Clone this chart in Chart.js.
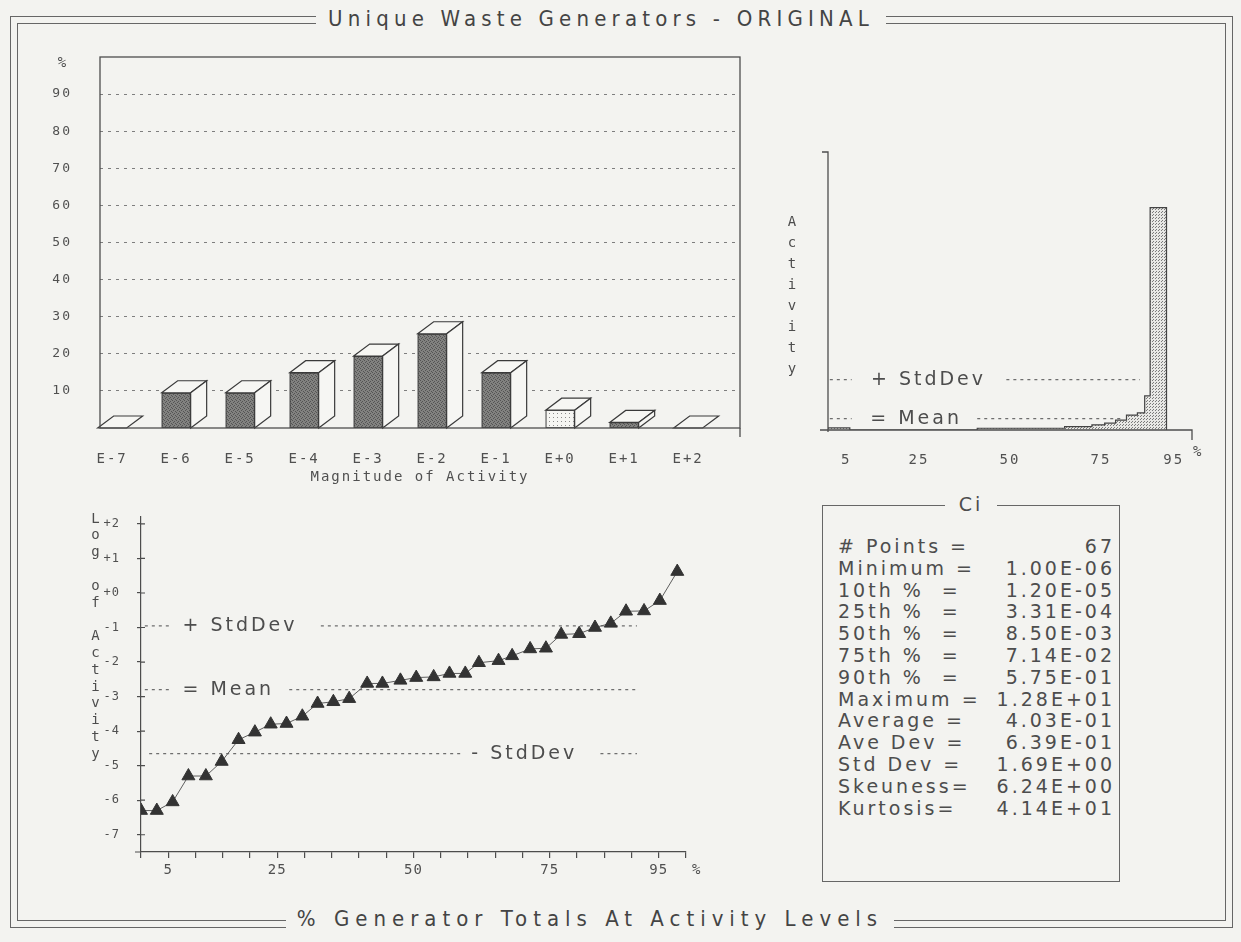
<!DOCTYPE html>
<html>
<head>
<meta charset="utf-8">
<title>Unique Waste Generators - ORIGINAL</title>
<script src="https://cdn.jsdelivr.net/npm/chart.js@4.4.1/dist/chart.umd.min.js"></script>
<style>
  html, body { margin: 0; padding: 0; background: #f3f3f0; }
  body { width: 1241px; height: 942px; position: relative; overflow: hidden;
         font-family: "DejaVu Sans", sans-serif; color: #4d4d4d; }
  .frame { position: absolute; border: 1.5px solid #666; box-sizing: border-box; }
  #outer { left: 10px; top: 16px; width: 1223px; height: 912px; }
  #inner { left: 17px; top: 23px; width: 1209px; height: 898px; }
  .cap { position: absolute; background: #f3f3f0; text-align: center; white-space: pre;
         font: 22px "DejaVu Sans Condensed", "DejaVu Sans", sans-serif;
         color: #444; line-height: 26px; }
  #title { left: 316px; top: 6px; width: 570px; letter-spacing: 5.2px; }
  #footer { left: 286px; top: 906px; width: 608px; letter-spacing: 6px; }
  canvas { position: absolute; }
  #chartA { left: 40px; top: 40px; }
  #chartB { left: 780px; top: 140px; }
  #chartC { left: 90px; top: 505px; }
  #stats { position: absolute; left: 822px; top: 505px; width: 298px; height: 377px;
           border: 1.5px solid #666; box-sizing: border-box;
           font: 19px "DejaVu Sans", sans-serif; letter-spacing: 3px; color: #4d4d4d; }
  #stats .ci { position: absolute; top: -13px; left: 0; width: 100%; text-align: center; }
  #stats .ci span { background: #f3f3f0; padding: 0 14px; }
  #stats .row { position: absolute; left: 15px; right: 4px; height: 22px; line-height: 22px; white-space: pre; }
  #stats .row .v { position: absolute; right: 0; top: 0; }
</style>
</head>
<body>
<div class="frame" id="outer"></div>
<div class="frame" id="inner"></div>
<div class="cap" id="title">Unique Waste Generators - ORIGINAL</div>
<div class="cap" id="footer">% Generator Totals At Activity Levels</div>

<canvas id="chartA" width="710" height="450"></canvas>
<canvas id="chartB" width="425" height="330"></canvas>
<canvas id="chartC" width="615" height="385"></canvas>

<div id="stats"><div class="ci"><span>Ci</span></div></div>

<script>
// magnitude histogram (% of generators per decade of activity)
const magLabels = ["E-7", "E-6", "E-5", "E-4", "E-3", "E-2", "E-1", "E+0", "E+1", "E+2"];
const magPct = [0, 9.5, 9.5, 14.9, 19.4, 25.4, 14.9, 4.8, 1.5, 0];
const pctTicks = [10, 20, 30, 40, 50, 60, 70, 80, 90];

// activity (Ci) against cumulative % of generators, drawn as steps
const histEdges = [0, 6, 41, 65, 72.5, 76, 79, 82, 85, 87, 88.5, 93];
const histActivity = [0.12, 0, 0.1, 0.2, 0.3, 0.4, 0.57, 0.86, 0.98, 1.96, 12.8, 0];
const histMean = 0.65;
const histPlusSD = 2.9;

// log activity against cumulative %
const logPct = [0, 2.9, 5.8, 8.7, 11.9, 14.8, 17.9, 20.9, 23.8, 26.7, 29.6, 32.4, 35.3, 38.2,
  41.5, 44.3, 47.6, 50.5, 53.7, 56.6, 59.5, 62.0, 65.6, 68.1, 71.4, 74.3, 77.1, 80.4, 83.3,
  86.2, 89.0, 92.3, 95.2, 98.4];
const logAct = [-6.3, -6.3, -6.05, -5.3, -5.3, -4.88, -4.25, -4.03, -3.8, -3.78, -3.57, -3.2,
  -3.15, -3.06, -2.62, -2.62, -2.53, -2.45, -2.43, -2.33, -2.33, -2.02, -1.96, -1.82, -1.62,
  -1.6, -1.2, -1.18, -1.0, -0.88, -0.53, -0.52, -0.22, 0.62];
const logMean = -2.8;
const logPlusSD = -0.95;
const logMinusSD = -4.65;
const logTicks = [-7, -6, -5, -4, -3, -2, -1, 0, 1, 2];
const pctLabels = [5, 25, 50, 75, 95];

// summary box
const statNames = ["# Points =", "Minimum =", "10th %  =", "25th %  =", "50th %  =", "75th %  =",
  "90th %  =", "Maximum =", "Average =", "Ave Dev =", "Std Dev =", "Skeuness=", "Kurtosis="];
const statValues = ["67", "1.00E-06", "1.20E-05", "3.31E-04", "8.50E-03", "7.14E-02",
  "5.75E-01", "1.28E+01", "4.03E-01", "6.39E-01", "1.69E+00", "6.24E+00", "4.14E+01"];

const INK = "#4d4d4d";
const MONO = '"DejaVu Sans Mono", monospace';
const SANS = '"DejaVu Sans", sans-serif';

Chart.defaults.font.family = MONO;
Chart.defaults.font.size = 14;
Chart.defaults.color = "#505050";
Chart.defaults.animation = false;
Chart.defaults.plugins.legend.display = false;
Chart.defaults.plugins.tooltip.enabled = false;

// --- fill patterns ---
function pattern(bg, dot, size, cells) {
  const c = document.createElement("canvas");
  c.width = c.height = size;
  const g = c.getContext("2d");
  g.fillStyle = bg;
  g.fillRect(0, 0, size, size);
  g.fillStyle = dot;
  cells.forEach(([x, y]) => g.fillRect(x, y, 1, 1));
  return g.createPattern(c, "repeat");
}
const darkFill = pattern("#828280", "#545454", 4, [[0, 0], [2, 1], [1, 2], [3, 3]]);
const dotFill = pattern("#f5f5f2", "#8a8a8a", 4, [[1, 1]]);
const histFill = pattern("#e8e8e5", "#7a7a7a", 3, [[0, 0], [1, 2]]);

// wide letter spacing like the old plotter font
function spacing(px) {
  return {
    id: "spacing",
    beforeLayout(chart) { chart.ctx.letterSpacing = px; },
    beforeDraw(chart) { chart.ctx.letterSpacing = px; }
  };
}

// drop the label overhang Chart.js reserves, so the plot box sits where asked
function noOverhang(s) {
  s.paddingTop = 0; s.paddingBottom = 0; s.paddingLeft = 0; s.paddingRight = 0;
}

function stackText(ctx, text, x, y0, step) {
  ctx.save();
  ctx.font = "14px " + MONO;
  ctx.fillStyle = INK;
  ctx.textAlign = "center";
  ctx.textBaseline = "middle";
  [...text].forEach((ch, i) => ctx.fillText(ch, x, y0 + i * step));
  ctx.restore();
}

function refLabel(chart, text, pct, value) {
  const {ctx, scales: {x, y}} = chart;
  ctx.save();
  ctx.font = "19px " + SANS;
  ctx.letterSpacing = "3px";
  ctx.fillStyle = INK;
  ctx.textAlign = "left";
  ctx.textBaseline = "middle";
  ctx.fillText(text, x.getPixelForValue(pct), y.getPixelForValue(value));
  ctx.restore();
}

// horizontal reference line broken where its label sits
function refLine(value, segA, segB) {
  return [
    {x: segA[0], y: value}, {x: segA[1], y: value},
    {x: (segA[1] + segB[0]) / 2, y: null},
    {x: segB[0], y: value}, {x: segB[1], y: value}
  ];
}
const refStyle = {borderColor: "#6e6e6e", borderWidth: 1.2, borderDash: [3, 4], pointRadius: 0, spanGaps: false, fill: false};

/* ---------------- 3D BAR CHART ---------------- */
const bars3d = {
  id: "bars3d",
  afterDatasetsDraw(chart) {
    const {ctx} = chart;
    const dx = 16, dy = 12;
    ctx.save();
    ctx.strokeStyle = "#3a3a3a";
    ctx.lineWidth = 1.2;
    ctx.fillStyle = "#f6f6f3";
    chart.getDatasetMeta(0).data.forEach(bar => {
      const {x, y, base, width} = bar.getProps(["x", "y", "base", "width"], true);
      const l = x - width / 2, r = x + width / 2;
      ctx.beginPath();
      ctx.moveTo(l, y); ctx.lineTo(l + dx, y - dy); ctx.lineTo(r + dx, y - dy); ctx.lineTo(r, y);
      ctx.closePath(); ctx.fill(); ctx.stroke();
      if (base - y > 0.5) {
        ctx.beginPath();
        ctx.moveTo(r, y); ctx.lineTo(r + dx, y - dy); ctx.lineTo(r + dx, base - dy); ctx.lineTo(r, base);
        ctx.closePath(); ctx.fill(); ctx.stroke();
      }
    });
    ctx.restore();
  },
  afterDraw(chart) {
    const {ctx, chartArea: a} = chart;
    ctx.save();
    ctx.strokeStyle = INK;
    ctx.lineWidth = 1.3;
    ctx.strokeRect(a.left, a.top, a.right - a.left, a.bottom - a.top);
    ctx.beginPath();
    ctx.moveTo(a.right, a.bottom); ctx.lineTo(a.right, a.bottom + 9);
    ctx.stroke();
    ctx.fillStyle = INK;
    ctx.font = "14px " + MONO;
    ctx.textAlign = "center";
    ctx.textBaseline = "middle";
    ctx.fillText("%", a.left - 37, a.top + 6);
    ctx.restore();
  }
};

new Chart(document.getElementById("chartA"), {
  type: "bar",
  data: {
    datasets: [{
      data: magPct.map((v, i) => ({x: i, y: v})),
      backgroundColor: c => (magLabels[c.dataIndex] === "E+0" ? dotFill : darkFill),
      borderColor: "#3a3a3a",
      borderWidth: 1.2,
      borderSkipped: false,
      barThickness: 29
    }]
  },
  options: {
    responsive: false,
    layout: {padding: {top: 17, right: 10, left: 0, bottom: 0}},
    scales: {
      x: {
        type: "linear", min: -0.19, max: 9.81, offset: false,
        afterBuildTicks: s => { s.ticks = magLabels.map((_, i) => ({value: i})); },
        ticks: {callback: v => magLabels[v], autoSkip: false, maxRotation: 0, padding: 15},
        grid: {display: false, offset: false},
        border: {display: false},
        title: {display: true, text: "Magnitude of Activity", color: "#505050",
                font: {size: 14}, padding: {top: 0, bottom: 4}},
        afterFit: s => { s.height = 62; noOverhang(s); }
      },
      y: {
        min: 0, max: 100,
        afterBuildTicks: s => { s.ticks = pctTicks.map(v => ({value: v})); },
        ticks: {padding: 28, font: {size: 13}},
        grid: {color: "#7e7e7e", lineWidth: 1, drawTicks: false},
        border: {display: false, dash: [3, 5]},
        afterFit: s => { s.width = 60; noOverhang(s); }
      }
    }
  },
  plugins: [spacing("2px"), bars3d]
});

/* ---------------- ACTIVITY STEP CHART ---------------- */
const frameB = {
  id: "frameB",
  afterDraw(chart) {
    const {ctx, chartArea: a} = chart;
    ctx.save();
    ctx.strokeStyle = INK;
    ctx.lineWidth = 1.3;
    ctx.beginPath();
    ctx.moveTo(a.left - 6, a.top); ctx.lineTo(a.left, a.top); ctx.lineTo(a.left, a.bottom + 2);
    ctx.moveTo(a.left - 8, a.bottom); ctx.lineTo(a.right, a.bottom); ctx.lineTo(a.right, a.bottom + 10);
    ctx.stroke();
    ctx.fillStyle = INK;
    ctx.font = "14px " + MONO;
    ctx.textAlign = "left";
    ctx.textBaseline = "middle";
    ctx.fillText("%", a.right + 1, a.bottom + 22);
    ctx.restore();
    stackText(ctx, "Activity", a.left - 35, a.top + 70, 21);
    refLabel(chart, "+ StdDev", 11.8, histPlusSD);
    refLabel(chart, "= Mean", 11.6, histMean);
  }
};

new Chart(document.getElementById("chartB"), {
  type: "line",
  data: {
    datasets: [
      {
        data: histEdges.map((x, i) => ({x, y: histActivity[i]})),
        stepped: "before", fill: "origin",
        backgroundColor: histFill, borderColor: "#444", borderWidth: 1.2, pointRadius: 0
      },
      {data: refLine(histPlusSD, [0.5, 6.5], [49, 85.7]), ...refStyle},
      {data: refLine(histMean, [0.5, 6.5], [41, 81]), ...refStyle}
    ]
  },
  options: {
    responsive: false,
    layout: {padding: {top: 12, right: 13, left: 0, bottom: 0}},
    scales: {
      x: {
        type: "linear", min: 0, max: 100,
        afterBuildTicks: s => { s.ticks = pctLabels.map(v => ({value: v})); },
        ticks: {autoSkip: false, maxRotation: 0, padding: 14},
        grid: {display: false},
        border: {display: false},
        afterFit: s => { s.height = 40; noOverhang(s); }
      },
      y: {
        min: 0, max: 16,
        ticks: {display: false},
        grid: {display: false},
        border: {display: false},
        afterFit: s => { s.width = 48; noOverhang(s); }
      }
    }
  },
  plugins: [spacing("2px"), frameB]
});

/* ---------------- LOG ACTIVITY CHART ---------------- */
const frameC = {
  id: "frameC",
  afterDraw(chart) {
    const {ctx, chartArea: a, scales: {y}} = chart;
    ctx.save();
    ctx.strokeStyle = INK;
    ctx.lineWidth = 1.2;
    ctx.beginPath();
    ctx.moveTo(a.left - 6, a.bottom); ctx.lineTo(a.left, a.bottom);
    logTicks.forEach(v => {
      const p = y.getPixelForValue(v);
      ctx.moveTo(a.left, p); ctx.lineTo(a.left + 4, p);
    });
    ctx.stroke();
    ctx.fillStyle = INK;
    ctx.font = "14px " + MONO;
    ctx.textAlign = "left";
    ctx.textBaseline = "middle";
    ctx.fillText("%", a.right + 6, a.bottom + 18);
    ctx.restore();
    stackText(ctx, "Log of Activity", a.left - 45, a.top + 2, 16.8);
    refLabel(chart, "+ StdDev", 7.6, logPlusSD);
    refLabel(chart, "= Mean", 7.6, logMean);
    refLabel(chart, "- StdDev", 60.6, logMinusSD);
  }
};

new Chart(document.getElementById("chartC"), {
  type: "line",
  data: {
    datasets: [
      {
        data: logPct.map((x, i) => ({x, y: logAct[i]})),
        borderColor: "#5e5e5e", borderWidth: 1,
        pointStyle: "triangle", pointRadius: 7.5,
        pointBackgroundColor: "#333", pointBorderColor: "#333",
        fill: false, order: 0
      },
      {data: refLine(logPlusSD, [0.7, 5.3], [33, 91]), ...refStyle, order: 1},
      {data: refLine(logMean, [0.7, 5.3], [27.2, 91.4]), ...refStyle, order: 1},
      {data: refLine(logMinusSD, [1.5, 58.6], [84.3, 91]), ...refStyle, order: 1}
    ]
  },
  options: {
    responsive: false,
    layout: {padding: {top: 12, right: 19, left: 0, bottom: 0}},
    scales: {
      x: {
        type: "linear", min: 0, max: 100,
        ticks: {stepSize: 5, autoSkip: false, maxRotation: 0, padding: 4,
                callback: v => (pctLabels.includes(v) ? String(v) : "")},
        grid: {drawOnChartArea: false, drawTicks: true, tickLength: 6, color: INK, lineWidth: 1.2},
        border: {display: true, color: INK, width: 1.2},
        afterFit: s => { s.height = 38; noOverhang(s); }
      },
      y: {
        min: -7.5, max: 2.2,
        afterBuildTicks: s => { s.ticks = logTicks.map(v => ({value: v})); },
        ticks: {padding: 17, font: {size: 12}, callback: v => (v >= 0 ? "+" : "") + v},
        grid: {drawOnChartArea: false, drawTicks: true, tickLength: 4, color: INK, lineWidth: 1.2},
        border: {display: true, color: INK, width: 1.2},
        afterFit: s => { s.width = 51; noOverhang(s); }
      }
    }
  },
  plugins: [spacing("1px"), frameC]
});

/* ---------------- SUMMARY BOX ---------------- */
const box = document.getElementById("stats");
statNames.forEach((name, i) => {
  const row = document.createElement("div");
  row.className = "row";
  row.style.top = (29 + i * 21.8) + "px";
  row.textContent = name;
  const v = document.createElement("span");
  v.className = "v";
  v.textContent = statValues[i];
  row.appendChild(v);
  box.appendChild(row);
});
</script>
</body>
</html>
